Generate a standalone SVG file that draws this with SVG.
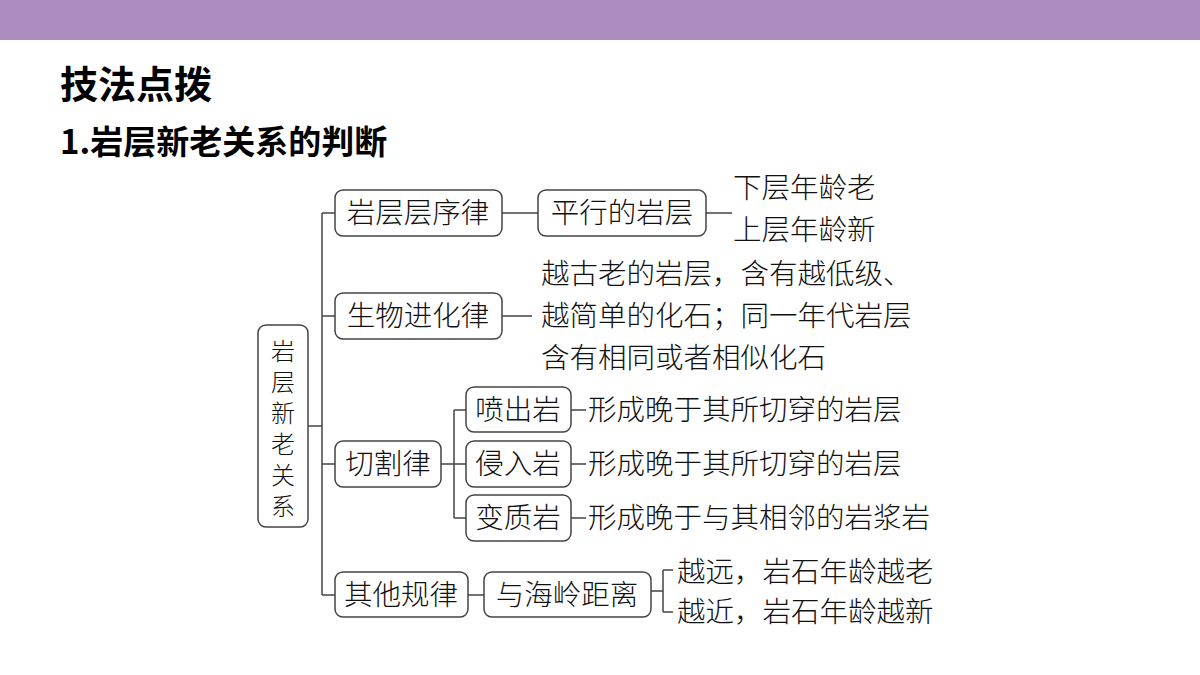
<svg xmlns="http://www.w3.org/2000/svg" width="1200" height="675" viewBox="0 0 1200 675">
<style>
.b{fill:#fff;stroke:#444;stroke-width:1.5}
.t{font-family:"Noto Sans CJK SC","Noto Sans",sans-serif;font-size:28.5px;fill:#111;font-weight:300}
.r{font-family:"Noto Sans CJK SC","Noto Sans",sans-serif;font-size:24px;fill:#111;font-weight:300}
.h{font-family:"Noto Sans CJK SC","Noto Sans",sans-serif;font-weight:bold;fill:#000}
.c{fill:none;stroke:#444;stroke-width:1.5}
</style>
<rect x="0" y="0" width="1200" height="40" fill="#AD8DBF"/>
<text class="h" x="60" y="98" font-size="38">技法点拨</text>
<text class="h" x="60" y="154" font-size="33">1.岩层新老关系的判断</text>
<g id="connectors">
<path class="c" d="M308 426H322M322 213V595M322 213H335M322 316H335M322 464H335M322 595H335"/>
<path class="c" d="M502 213H538M706 213H732M502 316H532"/>
<path class="c" d="M441 464H466M454 410V518M454 410H466M454 518H466"/>
<path class="c" d="M571 410H586M571 464H586M571 518H586"/>
<path class="c" d="M468 595H484M651 591H663M663 570V612M663 570H673M663 612H673"/>
</g>
<g id="root"><rect class="b" x="258" y="325" width="50" height="202" rx="8"/>
<text class="r" x="283" y="360" text-anchor="middle">岩</text>
<text class="r" x="283" y="391" text-anchor="middle">层</text>
<text class="r" x="283" y="422" text-anchor="middle">新</text>
<text class="r" x="283" y="453" text-anchor="middle">老</text>
<text class="r" x="283" y="484" text-anchor="middle">关</text>
<text class="r" x="283" y="515" text-anchor="middle">系</text></g>
<g id="n1"><rect class="b" x="335" y="190" width="167" height="46" rx="8"/><text class="t" x="418" y="223" text-anchor="middle">岩层层序律</text></g>
<g id="n2"><rect class="b" x="335" y="293" width="167" height="46" rx="8"/><text class="t" x="418" y="326" text-anchor="middle">生物进化律</text></g>
<g id="n3"><rect class="b" x="335" y="441" width="106" height="46" rx="8"/><text class="t" x="388" y="474" text-anchor="middle">切割律</text></g>
<g id="n4"><rect class="b" x="335" y="572" width="133" height="45" rx="8"/><text class="t" x="401" y="605" text-anchor="middle">其他规律</text></g>
<g id="n5"><rect class="b" x="538" y="190" width="168" height="46" rx="8"/><text class="t" x="622" y="223" text-anchor="middle">平行的岩层</text></g>
<g id="n6"><rect class="b" x="466" y="387" width="105" height="45" rx="8"/><text class="t" x="518" y="420" text-anchor="middle">喷出岩</text></g>
<g id="n7"><rect class="b" x="466" y="441" width="105" height="46" rx="8"/><text class="t" x="518" y="474" text-anchor="middle">侵入岩</text></g>
<g id="n8"><rect class="b" x="466" y="495" width="105" height="46" rx="8"/><text class="t" x="518" y="528" text-anchor="middle">变质岩</text></g>
<g id="n9"><rect class="b" x="484" y="572" width="167" height="45" rx="8"/><text class="t" x="567" y="605" text-anchor="middle">与海岭距离</text></g>
<g id="texts">
<text class="t" x="733" y="198">下层年龄老</text>
<text class="t" x="733" y="240">上层年龄新</text>
<text class="t" x="541" y="284">越古老的岩层，含有越低级、</text>
<text class="t" x="541" y="326">越简单的化石；同一年代岩层</text>
<text class="t" x="541" y="368">含有相同或者相似化石</text>
<text class="t" x="588" y="420">形成晚于其所切穿的岩层</text>
<text class="t" x="588" y="474">形成晚于其所切穿的岩层</text>
<text class="t" x="588" y="528">形成晚于与其相邻的岩浆岩</text>
<text class="t" x="677" y="582">越远，岩石年龄越老</text>
<text class="t" x="677" y="622">越近，岩石年龄越新</text>
</g>
</svg>
